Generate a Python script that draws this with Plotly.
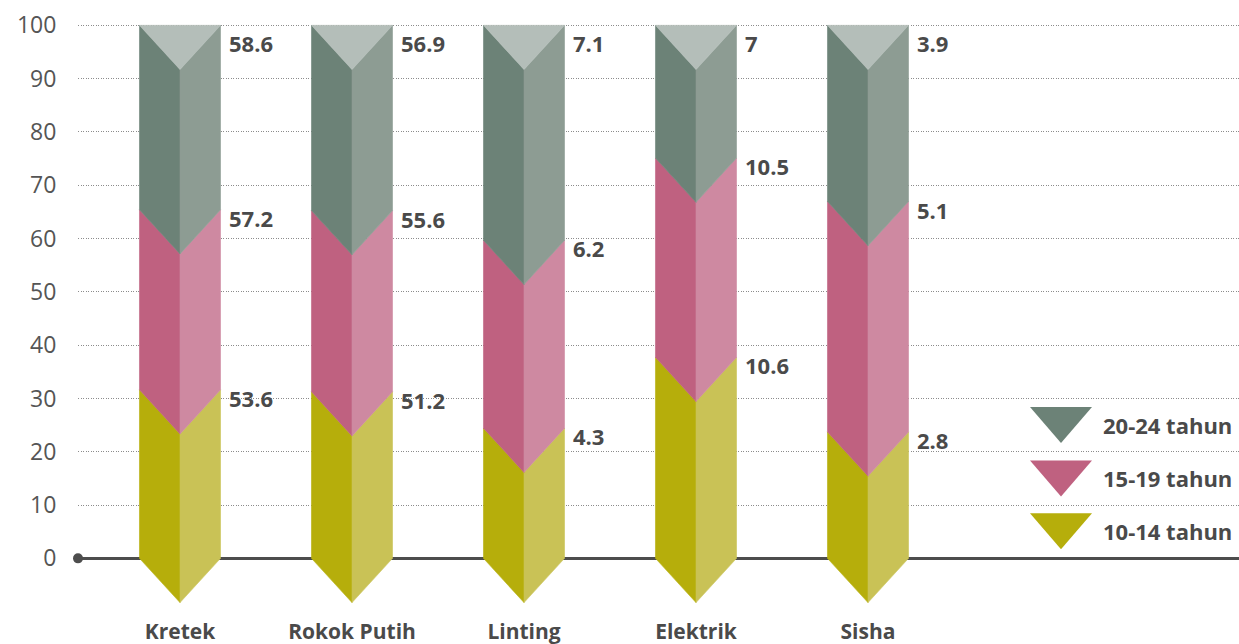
import plotly.graph_objects as go

categories = ["Kretek", "Rokok Putih", "Linting", "Elektrik", "Sisha"]
age_groups = ["10-14 tahun", "15-19 tahun", "20-24 tahun"]
values_10_14 = [53.6, 51.2, 4.3, 10.6, 2.8]
values_15_19 = [57.2, 55.6, 6.2, 10.5, 5.1]
values_20_24 = [58.6, 56.9, 7.1, 7.0, 3.9]
y_ticks = [0, 10, 20, 30, 40, 50, 60, 70, 80, 90, 100]

series = [values_10_14, values_15_19, values_20_24]
# (left face, right face) colours per age group
face_colors = [
    ("#b6ae0b", "#c9c256"),
    ("#bf6180", "#ce89a1"),
    ("#6c8277", "#8d9c93"),
]
legend_colors = ["#b6ae0b", "#bf6180", "#6c8277"]
cap_color = "#b4beb9"
text_color = "#4a4a4a"
font_family = "Open Sans, Noto Sans, sans-serif"

half_w = 0.2355   # half column width, x units
depth = 8.3       # chevron depth, y units

fig = go.Figure()


def add_poly(xs, ys, color):
    fig.add_trace(go.Scatter(
        x=xs + [xs[0]], y=ys + [ys[0]], mode="lines", fill="toself",
        fillcolor=color, line=dict(width=0.6, color=color),
        hoverinfo="skip", showlegend=False))


label_ann = []
for i, cat in enumerate(categories):
    total = sum(s[i] for s in series)
    bounds = [0.0]
    for s in series:
        bounds.append(bounds[-1] + s[i] / total * 100)
    bounds[-1] = 100.0
    for k in range(3):
        lo, hi = bounds[k], bounds[k + 1]
        left_c, right_c = face_colors[k]
        add_poly([i - half_w, i, i, i - half_w],
                 [lo, lo - depth, hi - depth, hi], left_c)
        add_poly([i, i + half_w, i + half_w, i],
                 [lo - depth, lo, hi, hi - depth], right_c)
        label_y = min(hi - 1.5, 96.6)
        v = series[k][i]
        label_ann.append(dict(
            x=i + half_w, y=label_y, xref="x", yref="y",
            text=f"{v:g}", showarrow=False, xanchor="left", yanchor="middle",
            xshift=6, font=dict(family=font_family, size=22, color=text_color,
                                weight="bold")))
    # top cap of the column
    add_poly([i - half_w, i + half_w, i], [100, 100, 100 - depth], cap_color)

# legend: downward triangles with labels, stacked from the top group down
shapes = []
legend_ann = []
legend_y = [25.0, 15.0, 5.1]
for j, k in enumerate([2, 1, 0]):
    yc = legend_y[j]
    shapes.append(dict(
        type="path", xref="paper", yref="y", xsizemode="pixel",
        ysizemode="pixel", xanchor=(1061 - 78) / 1161, yanchor=yc,
        path="M -31,18 L 31,18 L 0,-18 Z",
        fillcolor=legend_colors[k], line=dict(width=0)))
    legend_ann.append(dict(
        x=(1101 - 78) / 1161, y=yc, xref="paper", yref="y",
        text=age_groups[k], showarrow=False, xanchor="left", yanchor="middle",
        font=dict(family=font_family, size=22, color=text_color,
                  weight="bold")))

# dot at the start of the baseline
shapes.append(dict(
    type="circle", xref="paper", yref="y", xsizemode="pixel",
    ysizemode="pixel", xanchor=0, yanchor=0, x0=-5, x1=5, y0=-5, y1=5,
    fillcolor="#4d4d4d", line=dict(width=0), layer="above"))

fig.update_layout(
    width=1239, height=644,
    margin=dict(l=78, r=0, t=20, b=27),
    paper_bgcolor="white", plot_bgcolor="white",
    showlegend=False,
    shapes=shapes,
    annotations=label_ann + legend_ann,
    xaxis=dict(
        range=[-0.593, 6.157], tickvals=list(range(len(categories))),
        ticktext=categories, showgrid=False, zeroline=False, showline=False,
        ticks="", tickfont=dict(family=font_family, size=21, color=text_color,
                                weight="bold")),
    yaxis=dict(
        range=[-11, 101], tickvals=y_ticks, showgrid=True,
        gridcolor="#8c8c8c", griddash="1px,1.5px", gridwidth=1,
        zeroline=True, zerolinecolor="#4d4d4d", zerolinewidth=2.5,
        ticks="outside", ticklen=16, tickcolor="rgba(0,0,0,0)",
        tickfont=dict(family=font_family, size=23, color="#555555")),
)

fig.write_html("out.html")
